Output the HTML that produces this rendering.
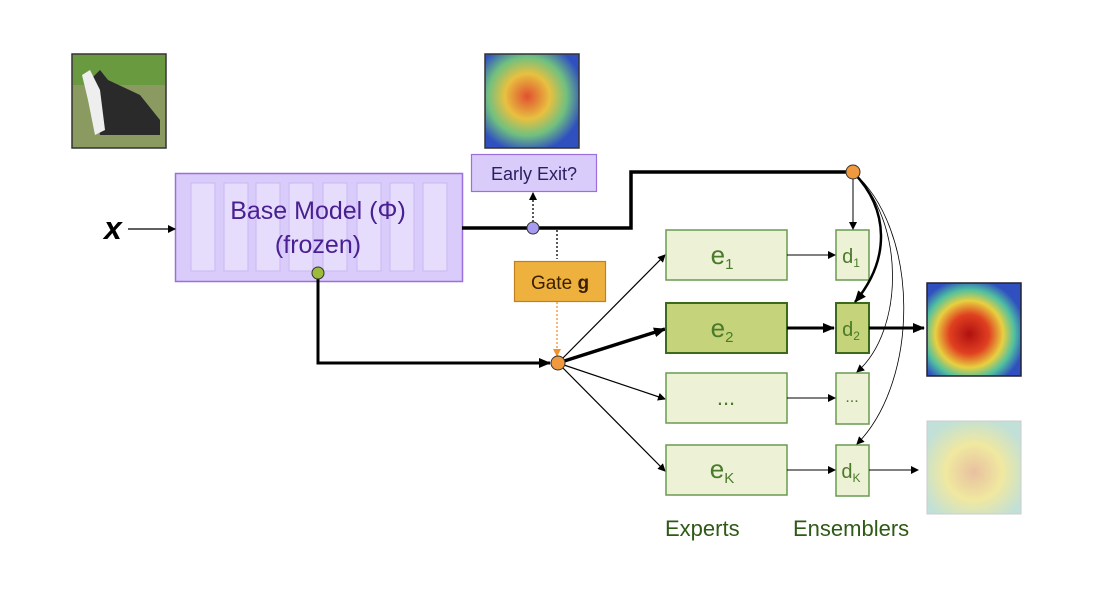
<!DOCTYPE html>
<html><head><style>
body{margin:0;background:#fff;width:1102px;height:586px;overflow:hidden}
svg text{font-family:"Liberation Sans",sans-serif}
</style></head><body>
<svg width="1102" height="586" viewBox="0 0 1102 586" xmlns="http://www.w3.org/2000/svg">
<defs>
<marker id="a" markerWidth="8" markerHeight="8" refX="7" refY="4" orient="auto" markerUnits="userSpaceOnUse"><path d="M0,0 L8,4 L0,8 Z" fill="#000"/></marker>
<marker id="ab" markerWidth="12" markerHeight="10" refX="11" refY="5" orient="auto" markerUnits="userSpaceOnUse"><path d="M0,0 L12,5 L0,10 Z" fill="#000"/></marker>
<marker id="ao" markerWidth="8" markerHeight="8" refX="7" refY="4" orient="auto" markerUnits="userSpaceOnUse"><path d="M0,0 L8,4 L0,8 Z" fill="#f0932b"/></marker>
<radialGradient id="hm" cx="45%" cy="55%" r="60%"><stop offset="0" stop-color="#b01010"/><stop offset="0.35" stop-color="#e04020"/><stop offset="0.6" stop-color="#e8d040"/><stop offset="0.8" stop-color="#50c0a0"/><stop offset="1" stop-color="#3050c0"/></radialGradient>
<radialGradient id="hm2" cx="45%" cy="45%" r="60%"><stop offset="0" stop-color="#e05030"/><stop offset="0.4" stop-color="#e8c040"/><stop offset="0.7" stop-color="#70c080"/><stop offset="1" stop-color="#3050c0"/></radialGradient>
<radialGradient id="hm3" cx="50%" cy="55%" r="60%"><stop offset="0" stop-color="#e8c0a0"/><stop offset="0.5" stop-color="#f0e8a0"/><stop offset="1" stop-color="#c0e0d8"/></radialGradient>
</defs>
<!-- input image -->
<rect x="72" y="54" width="94" height="94" fill="#8a9a60" stroke="#333" stroke-width="1.5"/>
<rect x="73" y="55" width="92" height="30" fill="#6a9a40"/>
<path d="M90,80 L100,70 L108,80 L140,95 L160,120 L160,135 L100,135 L95,100 Z" fill="#2a2a2a"/>
<path d="M82,75 L90,70 L100,90 L105,130 L95,135 L88,100 Z" fill="#eee"/>
<!-- early heatmap -->
<rect x="485" y="54" width="94" height="94" fill="url(#hm2)" stroke="#333" stroke-width="1.5"/>
<!-- base model -->
<rect x="175.5" y="173.5" width="287" height="108" fill="#d9ccfa" stroke="#9b6fdc" stroke-width="1.5"/>
<g fill="#e6ddfc" stroke="#cbb8f5" stroke-width="1">
<rect x="191" y="183" width="24" height="88"/><rect x="224" y="183" width="24" height="88"/><rect x="256" y="183" width="24" height="88"/><rect x="289" y="183" width="24" height="88"/><rect x="323" y="183" width="24" height="88"/><rect x="357" y="183" width="24" height="88"/><rect x="390" y="183" width="24" height="88"/><rect x="423" y="183" width="24" height="88"/>
</g>
<text x="318" y="219" font-size="25" fill="#4a2090" text-anchor="middle">Base Model (Φ)</text>
<text x="318" y="253" font-size="25" fill="#4a2090" text-anchor="middle">(frozen)</text>
<text x="104" y="239" font-size="32" font-style="italic" font-weight="bold" font-family="Liberation Serif" fill="#000">x</text>
<line x1="128" y1="229" x2="175" y2="229" stroke="#000" stroke-width="1.2" marker-end="url(#a)"/>
<!-- top path -->
<polyline points="462,228 631,228 631,172 853,172" fill="none" stroke="#000" stroke-width="3.5"/>
<!-- early exit -->
<rect x="471.5" y="154.5" width="125" height="37" fill="#d9ccfa" stroke="#9b6fdc" stroke-width="1.2"/>
<text x="534" y="180" font-size="18" fill="#2a2060" text-anchor="middle">Early Exit?</text>
<line x1="533" y1="222" x2="533" y2="193" stroke="#000" stroke-width="1.3" stroke-dasharray="2,2" marker-end="url(#a)"/>
<circle cx="533" cy="228" r="6" fill="#a89cf0" stroke="#333"/>
<line x1="557" y1="230" x2="557" y2="259" stroke="#000" stroke-width="1.3" stroke-dasharray="2,2"/>
<!-- gate -->
<rect x="514.5" y="261.5" width="91" height="40" fill="#eeb13e" stroke="#c08020" stroke-width="1.2"/>
<text x="560" y="289" font-size="19" fill="#3a2000" text-anchor="middle">Gate <tspan font-weight="bold">g</tspan></text>
<line x1="557" y1="302" x2="557" y2="356" stroke="#f0932b" stroke-width="1.3" stroke-dasharray="2,2" marker-end="url(#ao)"/>
<!-- bottom path -->
<polyline points="318,273 318,363 550,363" fill="none" stroke="#000" stroke-width="3" marker-end="url(#ab)"/>
<circle cx="318" cy="273" r="6" fill="#9cba3c" stroke="#333"/>
<!-- fan out -->
<line x1="558" y1="363" x2="665" y2="255" stroke="#000" stroke-width="1.2" marker-end="url(#a)"/>
<line x1="558" y1="363" x2="665" y2="329" stroke="#000" stroke-width="3.5" marker-end="url(#ab)"/>
<line x1="558" y1="363" x2="665" y2="399" stroke="#000" stroke-width="1.2" marker-end="url(#a)"/>
<line x1="558" y1="363" x2="665" y2="471" stroke="#000" stroke-width="1.2" marker-end="url(#a)"/>
<circle cx="558" cy="363" r="7" fill="#f0993e" stroke="#333"/>
<!-- experts -->
<g stroke="#6a9a50" stroke-width="1.5" fill="#edf1d6">
<rect x="666" y="230" width="121" height="50"/>
<rect x="666" y="373" width="121" height="50"/>
<rect x="666" y="445" width="121" height="50"/>
<rect x="836" y="230" width="33" height="50"/>
<rect x="836" y="373" width="33" height="51"/>
<rect x="836" y="445" width="33" height="51"/>
</g>
<rect x="666" y="303" width="121" height="50" fill="#c5d47a" stroke="#3a6a1a" stroke-width="2"/>
<rect x="836" y="303" width="33" height="50" fill="#c5d47a" stroke="#3a6a1a" stroke-width="2"/>
<g fill="#4a7a2a" text-anchor="middle">
<text x="722" y="264" font-size="26">e<tspan font-size="15" dy="5">1</tspan></text>
<text x="722" y="337" font-size="26">e<tspan font-size="15" dy="5">2</tspan></text>
<text x="726" y="405" font-size="22">...</text>
<text x="722" y="478" font-size="26">e<tspan font-size="15" dy="5">K</tspan></text>
<text x="851" y="263" font-size="20">d<tspan font-size="12" dy="4">1</tspan></text>
<text x="851" y="336" font-size="20">d<tspan font-size="12" dy="4">2</tspan></text>
<text x="852" y="402" font-size="16">...</text>
<text x="851" y="478" font-size="20">d<tspan font-size="12" dy="4">K</tspan></text>
</g>
<line x1="787" y1="255" x2="835" y2="255" stroke="#000" stroke-width="1" marker-end="url(#a)"/>
<line x1="787" y1="328" x2="834" y2="328" stroke="#000" stroke-width="3" marker-end="url(#ab)"/>
<line x1="787" y1="398" x2="835" y2="398" stroke="#000" stroke-width="1" marker-end="url(#a)"/>
<line x1="787" y1="470" x2="835" y2="470" stroke="#000" stroke-width="1" marker-end="url(#a)"/>
<line x1="869" y1="328" x2="924" y2="328" stroke="#000" stroke-width="3" marker-end="url(#ab)"/>
<line x1="869" y1="470" x2="918" y2="470" stroke="#000" stroke-width="1" marker-end="url(#a)"/>
<!-- ensembler fan -->
<line x1="853" y1="172" x2="853" y2="229" stroke="#000" stroke-width="1" marker-end="url(#a)"/>
<path d="M853,172 C890,210 890,260 855,302" fill="none" stroke="#000" stroke-width="2.5" marker-end="url(#ab)"/>
<path d="M853,172 C905,220 905,330 857,372" fill="none" stroke="#000" stroke-width="0.8" marker-end="url(#a)"/>
<path d="M853,172 C920,230 920,380 857,444" fill="none" stroke="#000" stroke-width="0.8" marker-end="url(#a)"/>
<circle cx="853" cy="172" r="7" fill="#f0993e" stroke="#333"/>
<!-- output images -->
<rect x="927" y="283" width="94" height="93" fill="url(#hm)" stroke="#223" stroke-width="1.5"/>
<rect x="927" y="421" width="94" height="93" fill="url(#hm3)" stroke="#ccc" stroke-width="1"/>
<text x="665" y="536" font-size="22" fill="#2f5a15">Experts</text>
<text x="793" y="536" font-size="22" fill="#2f5a15">Ensemblers</text>
</svg>
</body></html>
